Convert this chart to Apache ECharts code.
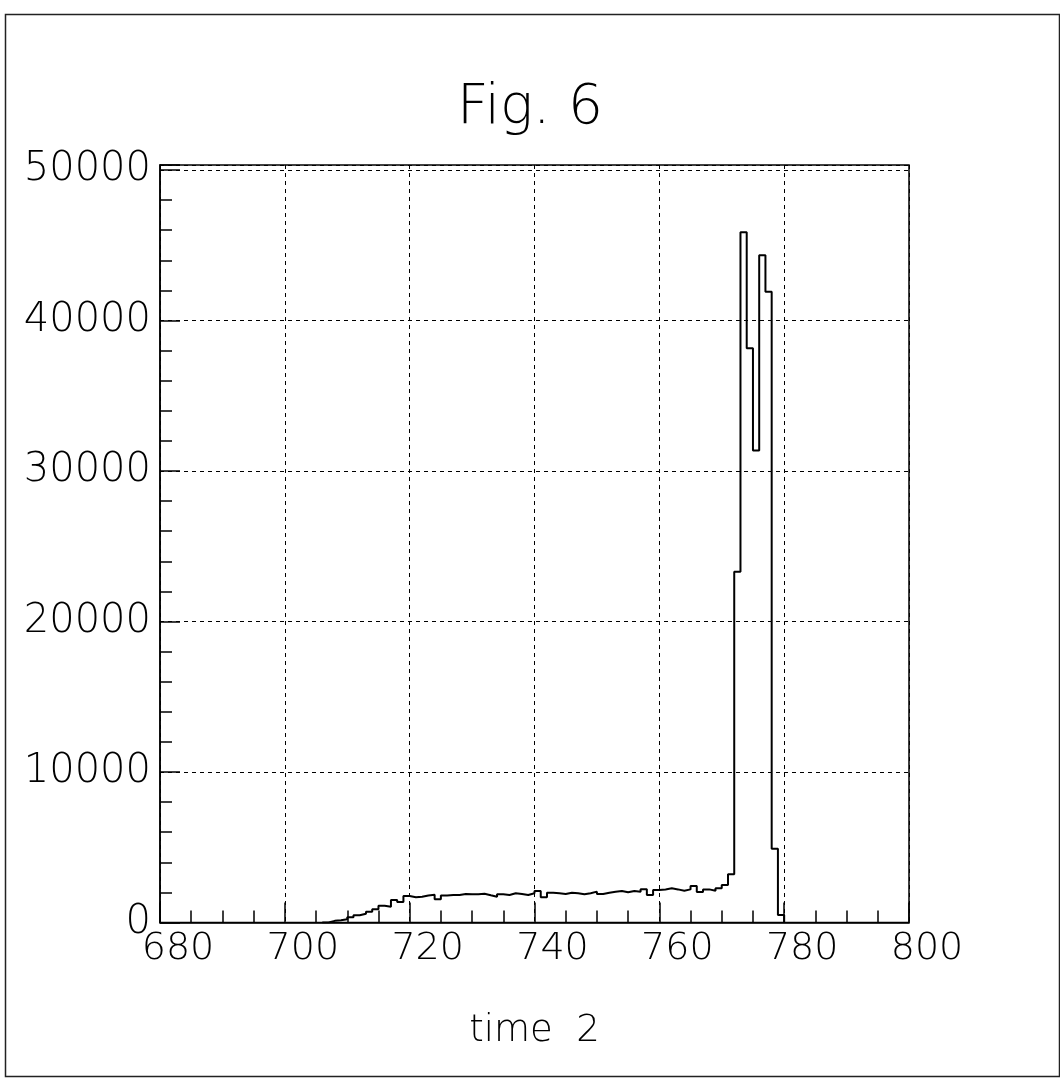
<!DOCTYPE html>
<html>
<head>
<meta charset="utf-8">
<script src="https://cdn.jsdelivr.net/npm/echarts@6/dist/echarts.min.js"></script>
<style>
html,body{margin:0;padding:0;background:#fff;}
#chart{width:1060px;height:1078px;}
</style>
</head>
<body>
<div id="chart"></div>
<script>
// Histogram bins (left edge of each 1-unit bin) and counts
const bins = [707,708,709,710,711,712,713,714,715,716,717,718,719,720,721,722,723,724,725,726,
  727,728,729,730,731,732,733,734,735,736,737,738,739,740,741,742,743,744,745,746,
  747,748,749,750,751,752,753,754,755,756,757,758,759,760,761,762,763,764,765,766,
  767,768,769,770,771,772,773,774,775,776,777,778,779];
const counts = [110,150,210,345,478,585,718,877,1116,1050,1495,1362,1760,1674,1714,1800,1840,1540,1800,1827,
  1830,1900,1870,1870,1910,1805,1716,1870,1827,1938,1893,1827,1938,2093,1680,1982,1938,1893,1982,1938,
  1870,1938,2050,1893,1982,2050,2093,2005,2093,2050,2204,1827,2160,2200,2270,2200,2115,2200,2425,2030,
  2200,2115,2270,2490,3200,23300,45870,38160,31360,44340,41910,4900,500];
const xTicks = [680,700,720,740,760,780,800];
const yTicks = [0,10000,20000,30000,40000,50000];

const binWidth = bins[1] - bins[0];
const stepData = [[bins[0] - binWidth, 0]]
  .concat(bins.map((b, i) => [b, counts[i]]))
  .concat([[bins[bins.length - 1] + binWidth, 0]]);

const FONT = 'DejaVu Sans';
const chart = echarts.init(document.getElementById('chart'), null, {renderer: 'canvas'});
const yMax = 50332;

chart.setOption({
  backgroundColor: '#ffffff',
  animation: false,
  title: {
    text: 'Fig. 6',
    left: 'center',
    top: 76,
    textStyle: {fontFamily: FONT, fontWeight: 200, fontSize: 55, color: '#000'}
  },
  graphic: [{
    type: 'rect', left: 3, top: 12, silent: true,
    shape: {width: 1054, height: 1062},
    style: {fill: 'none', stroke: '#222', lineWidth: 1.5}
  }],
  grid: {
    left: 160, right: 151, top: 165, bottom: 155.5,
    show: true, borderColor: '#000', borderWidth: 1.5, backgroundColor: 'transparent'
  },
  xAxis: {
    type: 'value',
    min: xTicks[0], max: xTicks[xTicks.length - 1], interval: xTicks[1] - xTicks[0],
    name: 'time  2',
    nameLocation: 'middle',
    nameGap: 90,
    nameTextStyle: {fontFamily: FONT, fontWeight: 200, fontSize: 37, color: '#000'},
    axisLine: {show: true, onZero: false, lineStyle: {color: '#000', width: 1.5}},
    axisTick: {show: true, inside: true, length: 20, lineStyle: {color: '#000', width: 1.5}},
    minorTick: {show: true, splitNumber: 4, length: 12, lineStyle: {color: '#000', width: 1.5}},
    axisLabel: {
      fontFamily: FONT, fontWeight: 200, fontSize: 38, color: '#000', margin: 8,
      padding: [0, 0, 0, 36]
    },
    splitLine: {show: true, lineStyle: {color: '#000', width: 1, type: [4, 4]}}
  },
  yAxis: [{
    type: 'value',
    min: 0, max: yMax, interval: yTicks[1] - yTicks[0],
    axisLine: {show: true, onZero: false, lineStyle: {color: '#000', width: 1.5}},
    axisTick: {show: true, inside: true, length: 20, lineStyle: {color: '#000', width: 1.5}},
    axisLabel: {
      fontFamily: FONT, fontWeight: 200, fontSize: 40, color: '#000', margin: 9,
      formatter: v => (yTicks.indexOf(v) >= 0 ? String(v) : '')
    },
    splitLine: {show: true, lineStyle: {color: '#000', width: 1, type: [4, 4]}}
  }, {
    type: 'value',
    position: 'left',
    min: 0, max: yMax, interval: 2000,
    axisLine: {show: false},
    axisTick: {show: true, inside: true, length: 12, lineStyle: {color: '#000', width: 1.5}},
    axisLabel: {show: false},
    splitLine: {show: false}
  }],
  series: [{
    type: 'line',
    yAxisIndex: 0,
    step: 'end',
    data: stepData,
    symbol: 'none',
    lineStyle: {color: '#000', width: 2},
    z: 5
  }]
});
</script>
</body>
</html>
